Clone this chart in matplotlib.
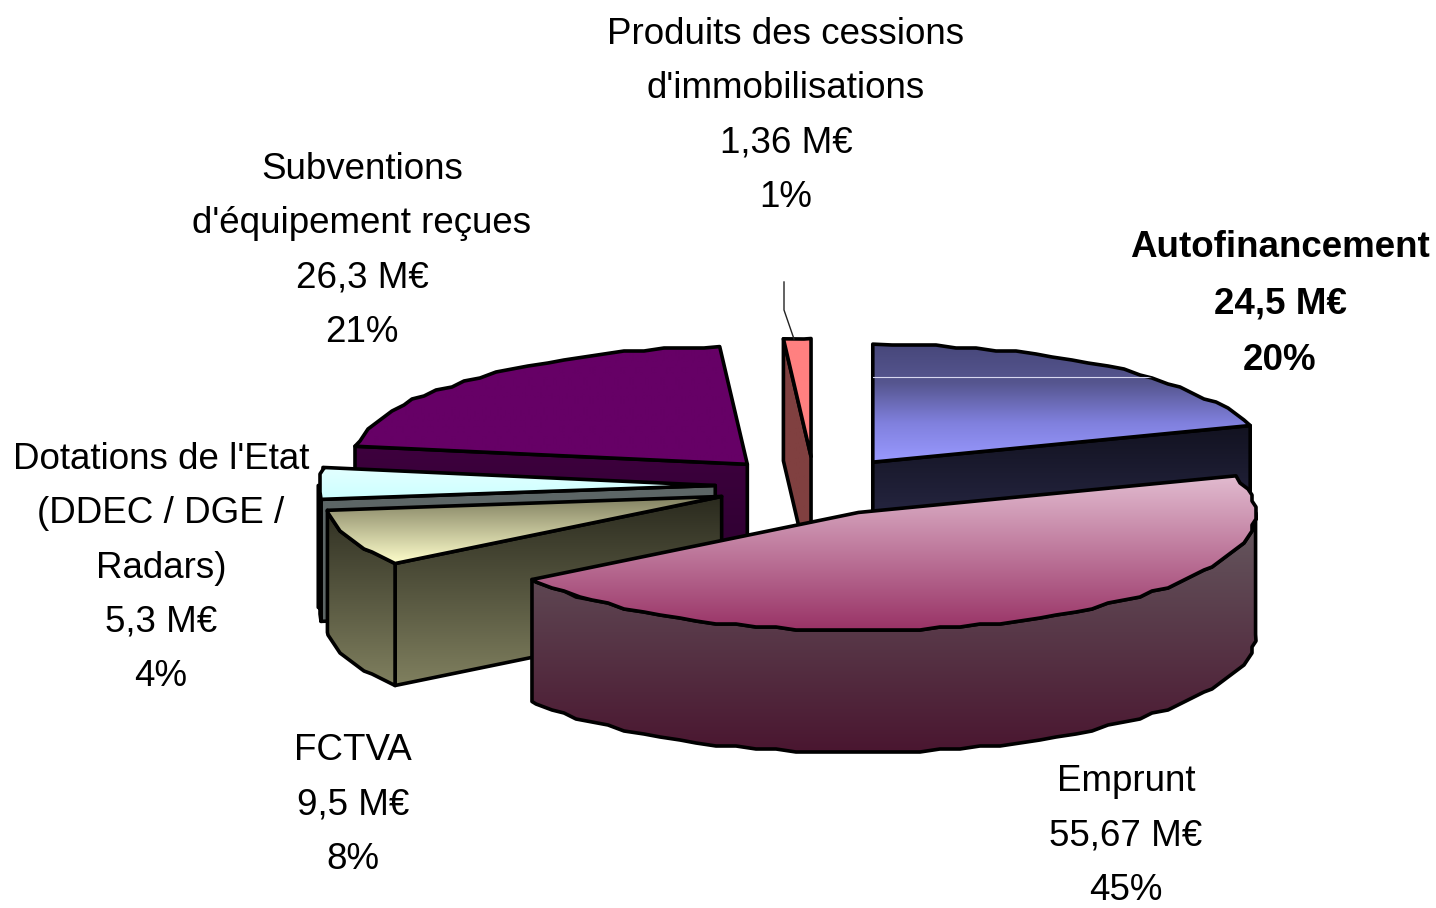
import numpy as np
import matplotlib
matplotlib.use('Agg')
import matplotlib.pyplot as plt
from matplotlib.colors import LinearSegmentedColormap
from matplotlib.patches import PathPatch
from matplotlib.path import Path

plt.rcParams['font.family'] = ['Liberation Sans', 'DejaVu Sans']

# data, clockwise from 12 o'clock
noms = ["Autofinancement", "Emprunt", "FCTVA", "Dotations de l'Etat\n(DDEC / DGE /\nRadars)",
        "Subventions\nd'équipement reçues", "Produits des cessions\nd'immobilisations"]
valeurs = [24.5, 55.67, 9.5, 5.3, 26.3, 1.36]
montants = ["24,5 M€", "55,67 M€", "9,5 M€", "5,3 M€", "26,3 M€", "1,36 M€"]
pourcents = ["20%", "45%", "8%", "4%", "21%", "1%"]

# geometry of the pie, pixels
CX, CY = 814.5, 486
RX, RY = 397, 118
PROF = 122
EXPLODE = 0.25

# gradient stops, top to bottom
dessus = [["#47477a", "#565690", "#8080dd", "#9999ff"], ["#e2bcd0", "#993366"], ["#807f60", "#ffffcc"],
          ["#e4ffff", "#ccffff"], ["#660066", "#660066"], ["#ff8080", "#ff8080"]]
coupes = [["#121220", "#333358"], ["#665a60", "#665a60"], ["#2a2a1e", "#80805f"],
          ["#5d6666", "#5d6666"], ["#3e003e", "#2a002e"], ["#804040", "#804040"]]
bords = [["#333358", "#333358"], ["#665a60", "#4a1630"], ["#2a2a1e", "#80805f"],
         ["#5d7074", "#6a8c90"], ["#3e003e", "#3e003e"], ["#804040", "#804040"]]

fig = plt.figure(figsize=(14.36, 9.08), dpi=100)
ax = fig.add_axes([0, 0, 1, 1])
ax.axis('off')

total = sum(valeurs)
bornes = np.cumsum([0] + valeurs) / total * 360


def point(a, ox, oy):
    t = np.radians(a)
    return ox + RX * np.sin(t), oy - RY * np.cos(t)


def rim(a0, a1, ox, oy):
    # the original has a slightly stair-stepped edge
    angles = np.arange(a0, a1, 3.0)
    pts = [point(a0, ox, oy)]
    for a in angles[1:]:
        x, y = point(a, ox, oy)
        pts.append((round(x / 4) * 4, round(y / 3) * 3))
    pts.append(point(a1, ox, oy))
    return pts


def forme(pts, cols, z, y0=None, y1=None):
    pts = np.array(pts)
    path = Path(np.vstack([pts, pts[0]]), closed=True)
    patch = PathPatch(path, fc='none', ec='black', lw=2.6, zorder=z + 0.5, joinstyle='round')
    ax.add_patch(patch)
    if y0 is None:
        y0, y1 = pts[:, 1].min(), pts[:, 1].max()
    cmap = LinearSegmentedColormap.from_list('g', cols)
    grad = np.linspace(0, 1, 256).reshape(-1, 1)
    im = ax.imshow(grad, cmap=cmap, aspect='auto', zorder=z, interpolation='bilinear',
                   extent=(pts[:, 0].min(), pts[:, 0].max(), y1, y0), origin='upper')
    clip = PathPatch(path, transform=ax.transData)
    im.set_clip_path(clip)
    return clip


ordre = [4, 5, 0, 3, 2, 1]
z = 1
for i in ordre:
    a0, a1 = bornes[i], bornes[i + 1]
    mid = np.radians((a0 + a1) / 2)
    ox = CX + EXPLODE * RX * np.sin(mid)
    oy = CY - EXPLODE * RY * np.cos(mid)

    # cut faces that look towards the viewer
    if np.sin(np.radians(a0)) < -1e-6:
        x, y = point(a0, ox, oy)
        forme([(x, y), (ox, oy), (ox, oy + PROF), (x, y + PROF)], coupes[i], z, min(y, oy), max(y, oy) + PROF)
        z += 1
    if np.sin(np.radians(a1)) > 1e-6:
        x, y = point(a1, ox, oy)
        forme([(ox, oy), (x, y), (x, y + PROF), (ox, oy + PROF)], coupes[i], z, min(y, oy), max(y, oy) + PROF)
        z += 1

    # outer wall, front half only
    d0, d1 = max(a0, 90), min(a1, 270)
    if d0 < d1:
        haut = rim(d0, d1, ox, oy)
        mur = haut + [(x, y + PROF) for x, y in reversed(haut)]
        ys = [p[1] for p in mur]
        forme(mur, bords[i], z, oy if i == 2 else min(ys), max(ys))
        z += 1

    # top
    top = [(ox, oy)] + rim(a0, a1, ox, oy)
    clip = forme(top, dessus[i], z)
    z += 1

    if i == 0:
        # thin pale line across the top of the blue slice
        trait, = ax.plot([ox, ox + RX], [oy - 85, oy - 85], color='#d8d8f0', lw=0.8, zorder=z)
        trait.set_clip_path(clip)
        z += 1

# leader of the smallest slice
ax.plot([784, 784, 794], [282, 310, 339], color='#222222', lw=1.0, zorder=z)

# labels
pos = [(1280, 304), (1126, 836), (353, 805), (161, 568), (362, 251), (786, 116)]
for i, (x, y) in enumerate(pos):
    txt = noms[i] + "\n" + montants[i] + "\n" + pourcents[i]
    ax.text(x, y, txt, ha='center', va='center', fontsize=26.5, linespacing=1.72 if i else 1.8,
            color='black', fontweight='bold' if i == 0 else 'normal', zorder=z + 1)

ax.set_xlim(0, 1436)
ax.set_ylim(908, 0)
fig.savefig('out.png', dpi=100, facecolor='white')
